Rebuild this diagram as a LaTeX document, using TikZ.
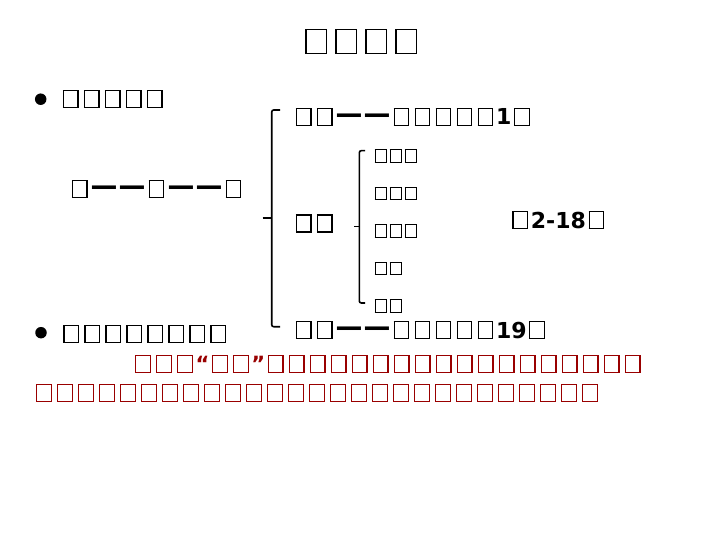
\documentclass[tikz,border=0pt]{standalone}
\usepackage{fontspec}
\setmainfont{DejaVu Sans}
\usepackage{tikz}
\usetikzlibrary{arrows}

\definecolor{notered}{RGB}{153,0,0}
\newcommand{\tofu}{\makebox[1em]{\setlength{\fboxsep}{0pt}\setlength{\fboxrule}{1.2bp}\fbox{\rule{0pt}{0.76em}\hspace{0.64em}}}}
\newcommand{\tofus}[1]{\foreach \k in {1,...,#1}{\tofu}}
\newcommand{\ldash}{\makebox[1.33em]{\raisebox{0.06em}{\scalebox{1.28}[1.35]{—}}}}

\tikzset{
	txt/.style={anchor=base west, inner sep=0pt, font=\fontsize{21bp}{25bp}\selectfont\bfseries},
	ttl/.style={txt, font=\fontsize{30bp}{36bp}\selectfont},
	sml/.style={txt, font=\fontsize{15bp}{18bp}\selectfont},
	note/.style={txt, text=notered},
	dot/.style={circle, fill, inner sep=0pt, minimum size=11.5bp},
	brace/.style={line width=1.6bp, rounded corners=2bp}
}

\begin{document}
\begin{tikzpicture}[x=1bp,y=-1bp]
		\useasboundingbox (0,0) rectangle (720,540);
		
		\node[ttl] (title) at (301,53) {\tofus{4}};
		
		\node[dot] (dot1) at (40.7,99.2) {};
		\node[txt] (item1) at (60,107) {\tofus{5}};
		\node[txt] (chain) at (69,196.7) {\tofu\ldash\ldash\tofu\ldash\ldash\tofu};
		
		\node[txt] (head) at (293,125) {\tofus{2}\ldash\ldash\tofus{5}{\fontsize{22bp}{25bp}\selectfont 1}\tofu};
		\node[txt] (body) at (293,231.5) {\tofus{2}};
		\node[txt] (tail) at (293,338) {\tofus{2}\ldash\ldash\tofus{5}{\fontsize{22bp}{25bp}\selectfont 19}\tofu};
		\node[txt] (range) at (509.7,228.3) {\tofu{\fontsize{22bp}{25bp}\selectfont 2-18}\tofu};
		
		\node[sml] (S1) at (373,161.7) {\tofus{3}};
		\node[sml] (S2) at (373,199.3) {\tofus{3}};
		\node[sml] (S3) at (373,236.7) {\tofus{3}};
		\node[sml] (S4) at (373,274.3) {\tofus{2}};
		\node[sml] (S5) at (373,311.7) {\tofus{2}};
		
		\node[dot] (dot2) at (41,332.7) {};
		\node[txt] (item2) at (60.7,341.7) {\tofus{8}};
		\node[note] (N1) at (132.4,371.7) {\tofus{3}“\tofus{2}”\tofus{18}};
		\node[note] (N2) at (33.4,400.7) {\tofus{27}};
		
		% braces
		\draw[brace] (280,110) -- (271.7,110) -- (271.7,326.7) -- (280,326.7);
		\draw[brace] (262.7,218.3) -- (272,218.3);
		\draw[brace] (365,150.7) -- (359.3,150.7) -- (359.3,303) -- (365,303);
		\draw[brace] (354.3,226.7) -- (359.6,226.7);
	\end{tikzpicture}
\end{document}
